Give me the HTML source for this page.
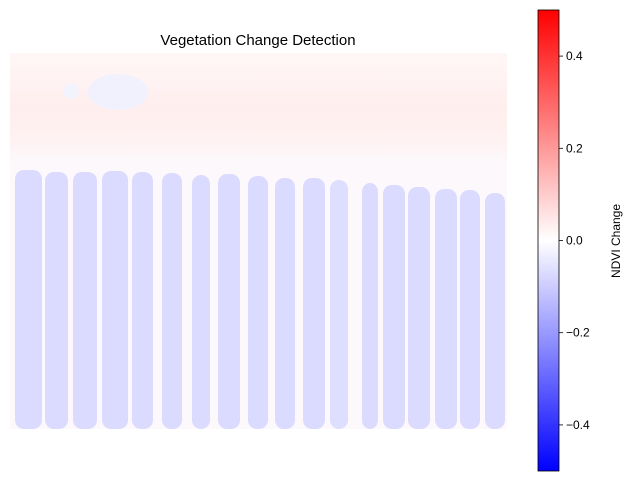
<!DOCTYPE html>
<html><head><meta charset="utf-8"><style>
body{margin:0;background:#fff;font-family:"Liberation Sans",sans-serif}
svg{display:block}
</style></head><body>
<svg id="chart" width="633" height="482" xmlns="http://www.w3.org/2000/svg">
<defs>
<linearGradient id="cb" x1="0" y1="0" x2="0" y2="1">
<stop offset="0" stop-color="#ff0000"/><stop offset="0.5" stop-color="#ffffff"/><stop offset="1" stop-color="#0000ff"/>
</linearGradient>
<linearGradient id="topband" x1="0" y1="0" x2="0" y2="1">
<stop offset="0" stop-color="#fff7f7"/><stop offset="0.5" stop-color="#ffeeee"/><stop offset="0.8" stop-color="#fff2f2"/><stop offset="1" stop-color="#fcf8fc"/>
</linearGradient>
</defs>
<text x="258" y="45" text-anchor="middle" font-size="15">Vegetation Change Detection</text>
<g id="img">
<rect x="10" y="53" width="497" height="376" fill="#fcf8fb"/>
<rect x="10" y="53" width="497" height="110" fill="url(#topband)"/>
<ellipse cx="118" cy="92" rx="30" ry="18" fill="#f1f1fd"/>
<ellipse cx="71" cy="91" rx="8" ry="8" fill="#f3f3fd"/>
</g>
<g id="cbar">
<rect x="538" y="10" width="21" height="461" fill="url(#cb)" stroke="#000" stroke-width="0.8"/>
</g>
<text transform="translate(620,241) rotate(-90)" text-anchor="middle" font-size="12">NDVI Change</text>
</svg>
<script>
const colStarts=[15,45,73,102,132,162,192,218,248,275,303,330,362,383,408,435,460,485];
const colValues=[-0.07,-0.07,-0.07,-0.07,-0.07,-0.07,-0.07,-0.07,-0.07,-0.07,-0.07,-0.065,-0.07,-0.07,-0.07,-0.07,-0.07,-0.07];
const colWidths=[27,23,24,26,21,20,18,22,20,20,22,18,16,22,22,22,20,20];
const colTops=[170,172,172,171,172,173,175,174,176,178,178,180,183,185,187,189,190,193];
const ticks=[0.4,0.2,0.0,-0.2,-0.4];
const tickLabels=["0.4","0.2","0.0","\u22120.2","\u22120.4"];
const NS="http://www.w3.org/2000/svg";
const vmin=-0.5,vmax=0.5,cbTop=10,cbBot=471,imgBottom=429;
function yScale(v){return cbTop+(vmax-v)/(vmax-vmin)*(cbBot-cbTop);}
function bwr(v){const t=Math.max(-1,Math.min(1,v/0.5));
 if(t<0){const c=Math.round(255*(1+t));return `rgb(${c},${c},255)`;}
 const c=Math.round(255*(1-t));return `rgb(255,${c},${c})`;}
const img=document.getElementById('img');
colStarts.forEach((x,i)=>{
 const r=document.createElementNS(NS,'rect');
 
 
 r.setAttribute('x',x);r.setAttribute('y',colTops[i]);
 r.setAttribute('width',colWidths[i]);r.setAttribute('height',imgBottom-colTops[i]);
 r.setAttribute('rx',9);r.setAttribute('fill',bwr(colValues[i]));
 img.appendChild(r);
});
const cb=document.getElementById('cbar');
ticks.forEach((t,i)=>{
 const y=yScale(t);
 const l=document.createElementNS(NS,'line');
 
 
 l.setAttribute('x1',559);l.setAttribute('x2',563);l.setAttribute('y1',y);l.setAttribute('y2',y);
 l.setAttribute('stroke','#000');l.setAttribute('stroke-width','0.8');
 cb.appendChild(l);
 const tx=document.createElementNS(NS,'text');
 
 
 tx.setAttribute('x',566);tx.setAttribute('y',y+4);tx.setAttribute('font-size','12');
 tx.textContent=tickLabels[i];
 cb.appendChild(tx);
});
</script>
</body></html>
